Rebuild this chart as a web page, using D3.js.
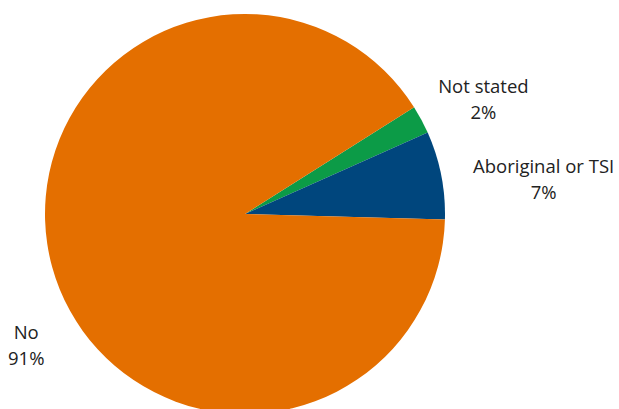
<!DOCTYPE html>
<html><head><meta charset="utf-8">
<script src="https://cdn.jsdelivr.net/npm/d3@7"></script>
<style>body{margin:0;background:#fff}svg{display:block}</style>
</head><body>
<svg id="c" width="619" height="409"></svg>
<script>
const categories = ["Not stated", "Aboriginal or TSI", "No"];
const values = [2.3, 7.1, 90.6];
const colors = ["#0C9B47", "#00467D", "#E46F00"];

const W = 619, H = 409;
const cx = 245, cy = 214, R = 200;
const startDeg = 57.7;
// label placement: [angle deg (clockwise from 12), radius] for label centre
const labelPolar = [[65.5, 262], [84.5, 300], [238, 258]];

const svg = d3.select("#c");
const g = svg.append("g").attr("transform", `translate(${cx},${cy})`);
const data = categories.map((c, i) => ({ c, v: values[i], col: colors[i] }));
const pie = d3.pie().sort(null).value(d => d.v)
  .startAngle(startDeg * Math.PI / 180)
  .endAngle((startDeg + 360) * Math.PI / 180);
const arc = d3.arc().innerRadius(0).outerRadius(R);
const arcs = pie(data);
g.selectAll("path").data(arcs).enter().append("path")
  .attr("d", arc).attr("fill", d => d.data.col);

const fmt = v => Math.round(v) + "%";
arcs.forEach((a, i) => {
  const [deg, r] = labelPolar[i];
  const t = deg * Math.PI / 180;
  const x = r * Math.sin(t), y = -r * Math.cos(t);
  const txt = g.append("text").attr("text-anchor", "middle")
    .attr("font-family", "Open Sans, sans-serif").attr("font-size", 18.5)
    .attr("fill", "#222");
  txt.append("tspan").attr("x", x).attr("y", y - 12).text(a.data.c);
  txt.append("tspan").attr("x", x).attr("y", y + 14).text(fmt(a.data.v));
});
</script>
</body></html>
